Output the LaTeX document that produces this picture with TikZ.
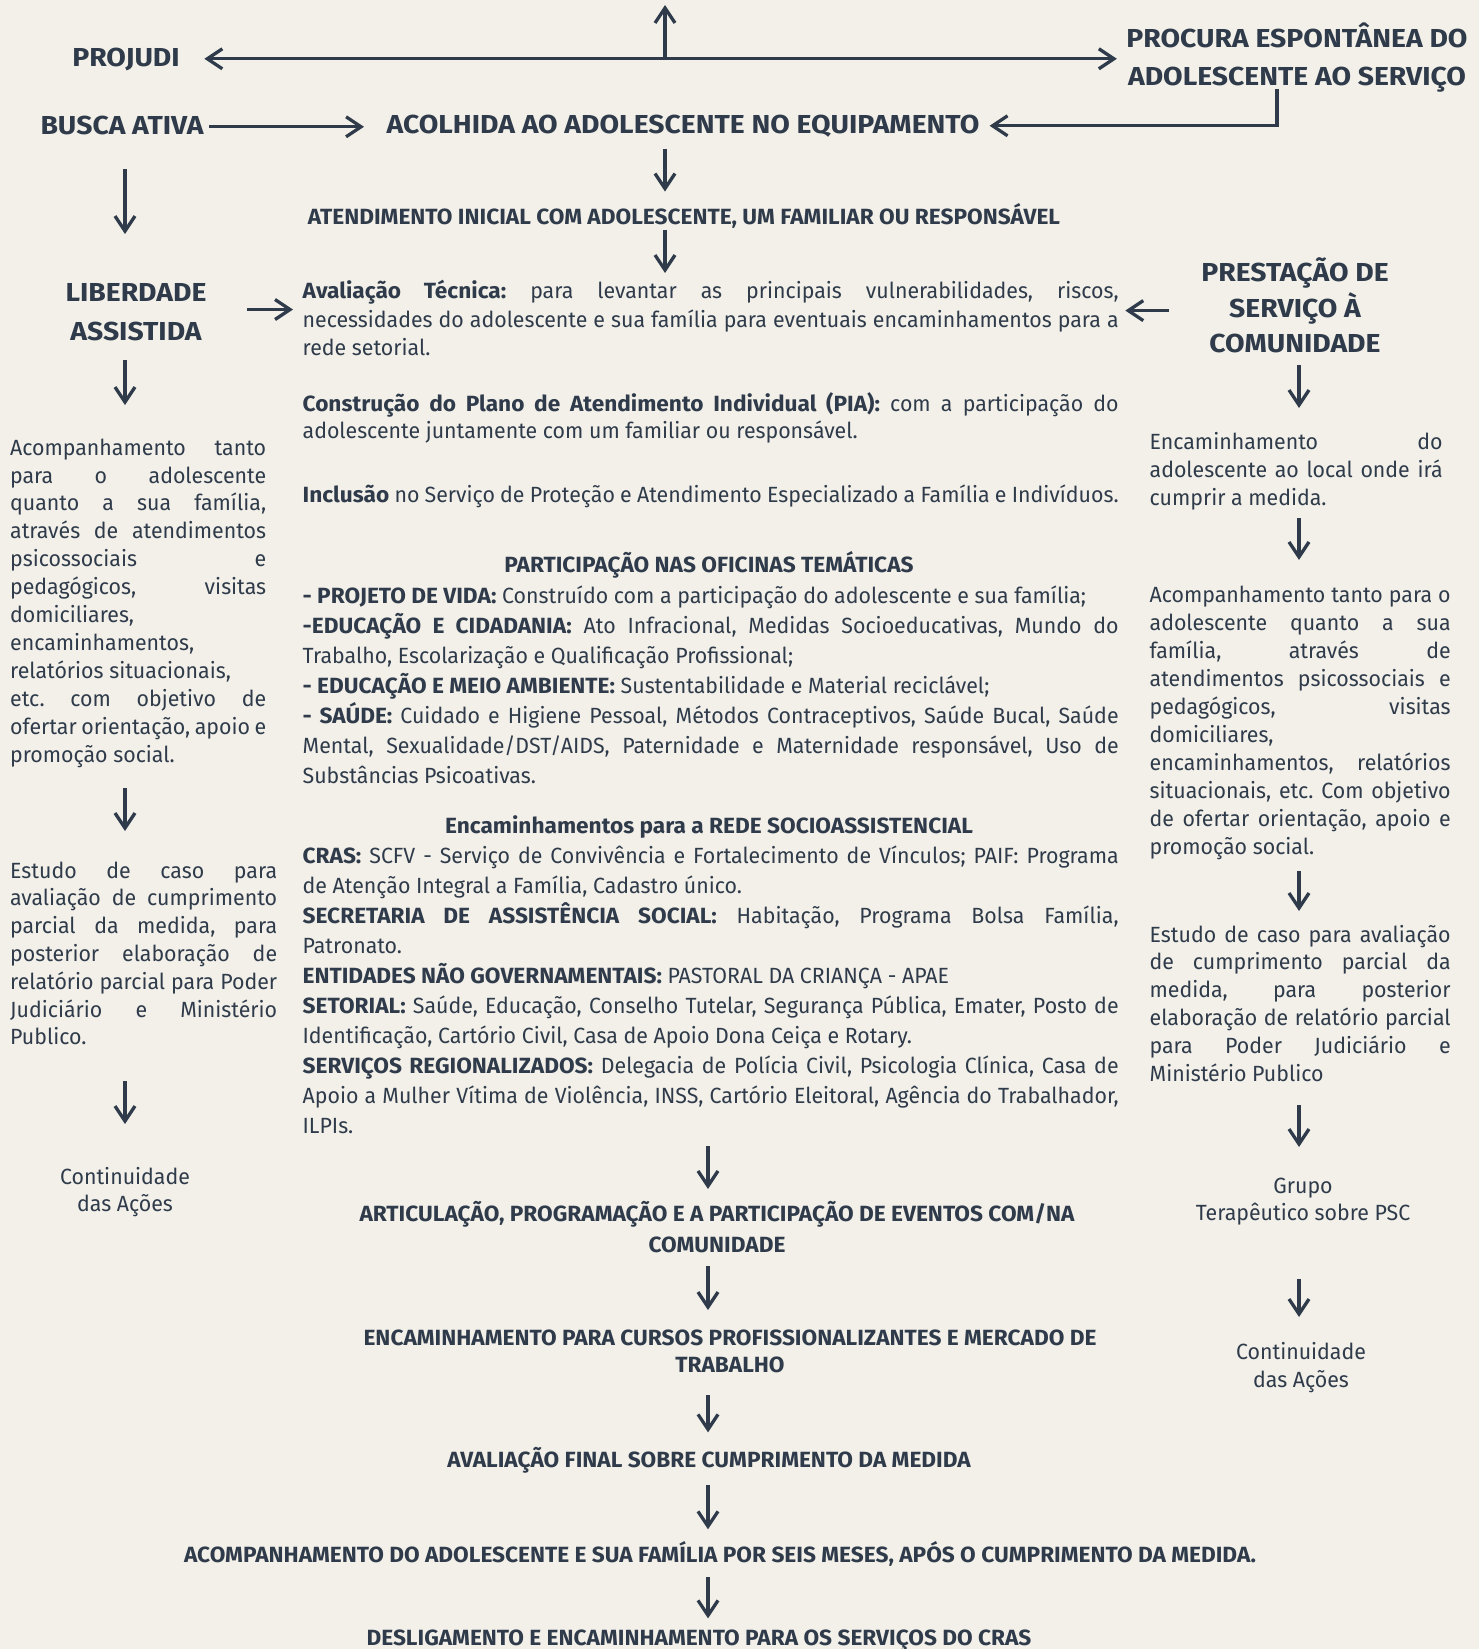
\documentclass[tikz,border=0pt]{standalone}
\usepackage{fontspec}
\usetikzlibrary{arrows.meta}
\newfontfamily\mapfont[FakeStretch=0.97]{Fira Sans}
\newfontfamily\boldfont[FakeStretch=1.03]{Fira Sans}
\newfontfamily\headfont[FakeStretch=1.09]{Fira Sans}
\definecolor{ink}{HTML}{2F3B4A}
\definecolor{paper}{HTML}{F2F0E9}
\newcommand\jline[1]{\makebox[\hsize][s]{\spaceskip=0pt\xspaceskip=0pt#1}}
\newcommand\bb[1]{{\boldfont\bfseries#1}}
\hyphenpenalty=10000
\frenchspacing
\parindent=0pt
\begin{document}
\begin{tikzpicture}[x=1pt,y=-1pt,color=ink,line width=3.3pt,>={Straight Barb[length=15pt,width=20pt]},
	every node/.style={inner sep=0pt,execute at begin node=\strut,execute at end node=\strut},
	hd/.style={font=\headfont\bfseries\fontsize{26}{36}\selectfont,align=center},
	sub/.style={font=\boldfont\bfseries\fontsize{22}{30}\selectfont,align=center},
	txt/.style={font=\mapfont\fontsize{22}{28.5}\selectfont,align=justify,text width=816pt,anchor=north west},
	side/.style={font=\mapfont\fontsize{22}{28}\selectfont,align=justify,anchor=north west}]
	\useasboundingbox (0,0) rectangle (1479,1649);
	\fill[paper] (0,0) rectangle (1479,1649);
	% top row
	\node[hd,anchor=base] (projudi) at (126,66) {PROJUDI};
	\node[hd,anchor=north,font=\headfont\bfseries\fontsize{26}{38}\selectfont] (procura) at (1297,21.4) {PROCURA ESPONTÂNEA DO\\ADOLESCENTE AO SERVIÇO};
	\node[hd,anchor=base] (busca) at (122,134) {BUSCA ATIVA};
	\node[hd,anchor=base] (acolhida) at (683,133) {ACOLHIDA AO ADOLESCENTE NO EQUIPAMENTO};
	\node[sub,anchor=base] (atend) at (684,224.2) {ATENDIMENTO INICIAL COM ADOLESCENTE, UM FAMILIAR OU RESPONSÁVEL};
	\node[hd,anchor=north,font=\headfont\bfseries\fontsize{26}{39}\selectfont] (liberdade) at (136,281.7) {LIBERDADE\\ASSISTIDA};
	\node[hd,anchor=north,font=\headfont\bfseries\fontsize{26}{35.5}\selectfont] (prestacao) at (1295,256.2) {PRESTAÇÃO DE\\SERVIÇO À\\COMUNIDADE};
	% middle column
	\node[txt] (aval) at (301,277) {\jline{\bb{Avaliação Técnica:} para levantar as principais vulnerabilidades, riscos,}\\
		\jline{necessidades do adolescente e sua família para eventuais encaminhamentos para a}\\
		rede setorial.};
	\node[txt,font=\mapfont\fontsize{22}{27}\selectfont] (pia) at (301,391.1) {\jline{\bb{Construção do Plano de Atendimento Individual (PIA):} com a participação do}\\
		adolescente juntamente com um familiar ou responsável.};
	\node[txt] (inclusao) at (301,481) {\bb{Inclusão} no Serviço de Proteção e Atendimento Especializado a Família e Indivíduos.};
	\node[sub,anchor=base] (oficinas) at (709,572) {PARTICIPAÇÃO NAS OFICINAS TEMÁTICAS};
	\node[txt,font=\mapfont\fontsize{22}{30}\selectfont] (temas) at (301,581) {\bb{- PROJETO DE VIDA:} Construído com a participação do adolescente e sua família;\\
		\jline{\bb{-EDUCAÇÃO E CIDADANIA:} Ato Infracional, Medidas Socioeducativas, Mundo do}\\
		Trabalho, Escolarização e Qualificação Profissional;\\
		\bb{- EDUCAÇÃO E MEIO AMBIENTE:} Sustentabilidade e Material reciclável;\\
		\jline{\bb{- SAÚDE:} Cuidado e Higiene Pessoal, Métodos Contraceptivos, Saúde Bucal, Saúde}\\
		\jline{Mental, Sexualidade/DST/AIDS, Paternidade e Maternidade responsável, Uso de}\\
		Substâncias Psicoativas.};
	\node[sub,anchor=base] (redehd) at (709,833) {Encaminhamentos para a REDE SOCIOASSISTENCIAL};
	\node[txt,font=\mapfont\fontsize{22}{30}\selectfont] (rede) at (301,841) {\jline{\bb{CRAS:} SCFV - Serviço de Convivência e Fortalecimento de Vínculos; PAIF: Programa}\\
		de Atenção Integral a Família, Cadastro único.\\
		\jline{\bb{SECRETARIA DE ASSISTÊNCIA SOCIAL:} Habitação, Programa Bolsa Família,}\\
		Patronato.\\
		\bb{ENTIDADES NÃO GOVERNAMENTAIS:} PASTORAL DA CRIANÇA - APAE\\
		\jline{\bb{SETORIAL:} Saúde, Educação, Conselho Tutelar, Segurança Pública, Emater, Posto de}\\
		Identificação, Cartório Civil, Casa de Apoio Dona Ceiça e Rotary.\\
		\jline{\bb{SERVIÇOS REGIONALIZADOS:} Delegacia de Polícia Civil, Psicologia Clínica, Casa de}\\
		\jline{Apoio a Mulher Vítima de Violência, INSS, Cartório Eleitoral, Agência do Trabalhador,}\\
		ILPIs.};
	% bottom column
	\node[sub,anchor=north,font=\boldfont\bfseries\fontsize{22}{31}\selectfont] (artic) at (717,1199.9) {ARTICULAÇÃO, PROGRAMAÇÃO E A PARTICIPAÇÃO DE EVENTOS COM/NA\\COMUNIDADE};
	\node[sub,anchor=north,font=\boldfont\bfseries\fontsize{22}{27}\selectfont] (cursos) at (730,1328.7) {ENCAMINHAMENTO PARA CURSOS PROFISSIONALIZANTES E MERCADO DE\\TRABALHO};
	\node[sub,anchor=base] (final) at (709,1467) {AVALIAÇÃO FINAL SOBRE CUMPRIMENTO DA MEDIDA};
	\node[sub,anchor=base] (seis) at (720,1562) {ACOMPANHAMENTO DO ADOLESCENTE E SUA FAMÍLIA POR SEIS MESES, APÓS O CUMPRIMENTO DA MEDIDA.};
	\node[sub,anchor=base] (deslig) at (699,1645) {DESLIGAMENTO E ENCAMINHAMENTO PARA OS SERVIÇOS DO CRAS};
	% left column
	\node[side,text width=256pt,font=\mapfont\fontsize{22}{27.9}\selectfont] (lacomp) at (8.5,434) {\jline{Acompanhamento tanto}\\
		\jline{para o adolescente}\\
		\jline{quanto a sua família,}\\
		\jline{através de atendimentos}\\
		\jline{psicossociais e}\\
		\jline{pedagógicos, visitas}\\
		domiciliares,\\
		encaminhamentos,\\
		relatórios situacionais,\\
		\jline{etc. com objetivo de}\\
		\jline{ofertar orientação, apoio e}\\
		promoção social.};
	\node[side,text width=267pt,font=\mapfont\fontsize{22}{27.8}\selectfont] (lestudo) at (8.5,857) {\jline{Estudo de caso para}\\
		\jline{avaliação de cumprimento}\\
		\jline{parcial da medida, para}\\
		\jline{posterior elaboração de}\\
		\jline{relatório parcial para Poder}\\
		\jline{Judiciário e Ministério}\\
		Publico.};
	\node[side,align=center,anchor=north,font=\mapfont\fontsize{22}{27}\selectfont] (lcont) at (125,1165.6) {Continuidade\\das Ações};
	% right column
	\node[side,text width=293pt] (renc) at (1148,427.9) {\jline{Encaminhamento do}\\
		\jline{adolescente ao local onde irá}\\
		cumprir a medida.};
	\node[side,text width=301pt] (racomp) at (1148,580.9) {\jline{Acompanhamento tanto para o}\\
		\jline{adolescente quanto a sua}\\
		\jline{família, através de}\\
		\jline{atendimentos psicossociais e}\\
		\jline{pedagógicos, visitas}\\
		domiciliares,\\
		\jline{encaminhamentos, relatórios}\\
		\jline{situacionais, etc. Com objetivo}\\
		\jline{de ofertar orientação, apoio e}\\
		promoção social.};
	\node[side,text width=301pt,font=\mapfont\fontsize{22}{27.8}\selectfont] (restudo) at (1148,921) {\jline{Estudo de caso para avaliação}\\
		\jline{de cumprimento parcial da}\\
		\jline{medida, para posterior}\\
		\jline{elaboração de relatório parcial}\\
		\jline{para Poder Judiciário e}\\
		Ministério Publico};
	\node[side,align=center,anchor=north,font=\mapfont\fontsize{22}{27}\selectfont] (grupo) at (1303,1176.6) {Grupo\\Terapêutico sobre PSC};
	\node[side,align=center,anchor=north] (rcont) at (1301,1340.9) {Continuidade\\das Ações};
	% axes of the arrows
	\coordinate (topend) at (665,5);
	\coordinate (midx) at (665,0);
	\coordinate (elbow) at (1277,0);
	\coordinate (leftx) at (125,0);
	\coordinate (rightx) at (1299,0);
	\coordinate (lowx) at (708,0);
	% arrows
	\draw[<->,shorten <=23pt,shorten >=8pt] (projudi.east) -- (projudi.east -| procura.west);
	\draw[->] (topend |- projudi.east) -- (topend);
	\draw[->,shorten <=4pt,shorten >=21pt] (busca.east) -- (busca.east -| acolhida.west);
	\draw[->,shorten <=-10pt,shorten >=8.6pt] (procura.south -| elbow) |- (acolhida.east);
	\draw[->,shorten <=4pt,shorten >=10pt] (acolhida.south -| midx) -- (atend.north -| midx);
	\draw[->,shorten <=-5pt,shorten >=4pt] (atend.south -| midx) -- (aval.north -| midx);
	\draw[->,shorten <=39pt,shorten >=8pt] ([yshift=8.2pt]liberdade.east) -- ([yshift=8.2pt]liberdade.east -| aval.west);
	\draw[->,shorten <=31pt,shorten >=5pt] (prestacao.west) -- (prestacao.west -| aval.east);
	\draw[->,shorten <=23pt,shorten >=47.7pt] (busca.south -| leftx) -- (liberdade.north -| leftx);
	\draw[->,shorten <=6.3pt,shorten >=29pt] (liberdade.south -| leftx) -- (lacomp.north -| leftx);
	\draw[->,shorten <=16.2pt,shorten >=26pt] (lacomp.south -| leftx) -- (lestudo.north -| leftx);
	\draw[->,shorten <=26.4pt,shorten >=41.6pt] (lestudo.south -| leftx) -- (lcont.north -| leftx);
	\draw[->,shorten >=19.9pt] (prestacao.south -| rightx) -- (renc.north -| rightx);
	\draw[->,shorten <=3pt,shorten >=21pt] (renc.south -| rightx) -- (racomp.north -| rightx);
	\draw[->,shorten <=7pt,shorten >=10pt] (racomp.south -| rightx) -- (restudo.north -| rightx);
	\draw[->,shorten <=14pt,shorten >=29.6pt] (restudo.south -| rightx) -- (grupo.north -| rightx);
	\draw[->,shorten <=48.4pt,shorten >=23.9pt] (grupo.south -| rightx) -- (rcont.north -| rightx);
	\draw[->,shorten <=2pt,shorten >=11pt] (rede.south -| lowx) -- (artic.north -| lowx);
	\draw[->,shorten <=2pt,shorten >=18.7pt] (artic.south -| lowx) -- (cursos.north -| lowx);
	\draw[->,shorten <=12.3pt,shorten >=12pt] (cursos.south -| lowx) -- (final.north -| lowx);
	\draw[->,shorten <=7pt,shorten >=10pt] (final.south -| lowx) -- (seis.north -| lowx);
	\draw[->,shorten <=4pt,shorten >=4pt] (seis.south -| lowx) -- (deslig.north -| lowx);
\end{tikzpicture}
\end{document}
